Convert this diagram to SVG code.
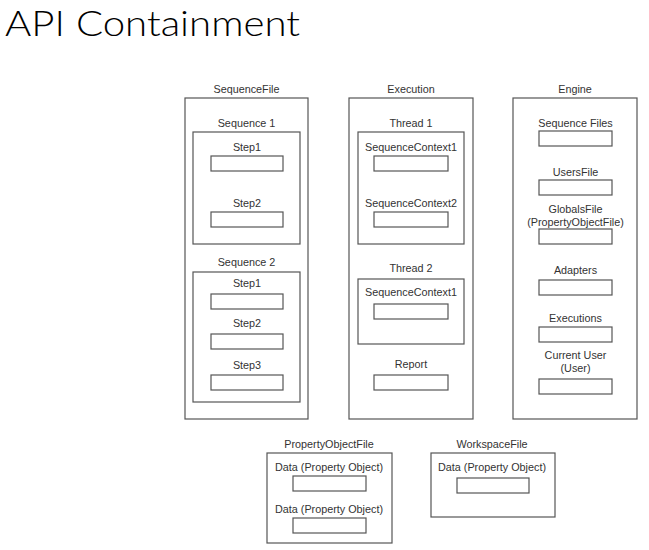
<svg xmlns="http://www.w3.org/2000/svg" width="649" height="550" viewBox="0 0 649 550">
<style>
.t{font-family:"Liberation Sans",Arial,sans-serif;font-size:10.8px;fill:#333;text-anchor:middle;dominant-baseline:central}
.b{fill:none;stroke:#555;stroke-width:1.2}
.title{font-family:Lato,"Open Sans","Liberation Sans",sans-serif;font-weight:300;font-size:36px;fill:#000}
</style>
<rect width="649" height="550" fill="#fff"/>
<text class="title" x="5" y="35.5" textLength="295" lengthAdjust="spacingAndGlyphs">API Containment</text>

<g id="sequencefile">
<text class="t" x="246.5" y="89">SequenceFile</text>
<rect class="b" x="185" y="98" width="123" height="321"/>
<g id="sequence1">
<text class="t" x="246.5" y="123">Sequence 1</text>
<rect class="b" x="193" y="132" width="107" height="112"/>
<text class="t" x="247" y="147">Step1</text>
<rect class="b" x="211" y="156" width="72" height="15"/>
<text class="t" x="247" y="203">Step2</text>
<rect class="b" x="211" y="212" width="72" height="15"/>
</g>
<g id="sequence2">
<text class="t" x="246.5" y="262">Sequence 2</text>
<rect class="b" x="193" y="272" width="107" height="130"/>
<text class="t" x="247" y="283">Step1</text>
<rect class="b" x="211" y="294" width="72" height="15"/>
<text class="t" x="247" y="323">Step2</text>
<rect class="b" x="211" y="334" width="72" height="15"/>
<text class="t" x="247" y="365">Step3</text>
<rect class="b" x="211" y="375" width="72" height="15"/>
</g>
</g>

<g id="execution">
<text class="t" x="411" y="89">Execution</text>
<rect class="b" x="349" y="98" width="124" height="321"/>
<g id="thread1">
<text class="t" x="411" y="123">Thread 1</text>
<rect class="b" x="358" y="132" width="106" height="112"/>
<text class="t" x="411" y="147">SequenceContext1</text>
<rect class="b" x="374" y="156" width="74" height="15"/>
<text class="t" x="411" y="203">SequenceContext2</text>
<rect class="b" x="374" y="212" width="74" height="15"/>
</g>
<g id="thread2">
<text class="t" x="411" y="268">Thread 2</text>
<rect class="b" x="358" y="279" width="106" height="65"/>
<text class="t" x="411" y="292">SequenceContext1</text>
<rect class="b" x="374" y="304" width="74" height="15"/>
</g>
<text class="t" x="411" y="364">Report</text>
<rect class="b" x="374" y="375" width="74" height="15"/>
</g>

<g id="engine">
<text class="t" x="575" y="89">Engine</text>
<rect class="b" x="513" y="98" width="124" height="321"/>
<text class="t" x="575.5" y="123">Sequence Files</text>
<rect class="b" x="539" y="131" width="73" height="15"/>
<text class="t" x="575.5" y="172">UsersFile</text>
<rect class="b" x="539" y="180" width="73" height="15"/>
<text class="t" x="575.5" y="209">GlobalsFile</text>
<text class="t" x="575.5" y="222">(PropertyObjectFile)</text>
<rect class="b" x="539" y="229" width="73" height="15"/>
<text class="t" x="575.5" y="270">Adapters</text>
<rect class="b" x="539" y="280" width="73" height="15"/>
<text class="t" x="575.5" y="318">Executions</text>
<rect class="b" x="539" y="327" width="73" height="15"/>
<text class="t" x="575.5" y="355">Current User</text>
<text class="t" x="575.5" y="368">(User)</text>
<rect class="b" x="539" y="379" width="73" height="15"/>
</g>

<g id="propertyobjectfile">
<text class="t" x="329" y="444">PropertyObjectFile</text>
<rect class="b" x="267" y="453" width="125" height="90"/>
<text class="t" x="329" y="467">Data (Property Object)</text>
<rect class="b" x="293" y="476" width="73" height="15"/>
<text class="t" x="329" y="509">Data (Property Object)</text>
<rect class="b" x="293" y="518" width="73" height="15"/>
</g>

<g id="workspacefile">
<text class="t" x="492" y="444">WorkspaceFile</text>
<rect class="b" x="431" y="453" width="124" height="64"/>
<text class="t" x="492" y="467">Data (Property Object)</text>
<rect class="b" x="457" y="478" width="72" height="15"/>
</g>

<g id="connectors"></g>
</svg>
